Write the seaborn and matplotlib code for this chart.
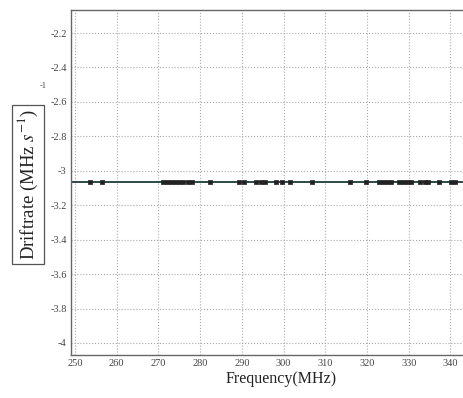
import numpy as np
import pandas as pd
import seaborn as sns
import matplotlib.pyplot as plt

sns.set_style('whitegrid')
plt.rcParams['font.family'] = ['Liberation Serif', 'DejaVu Serif']
plt.rcParams['mathtext.fontset'] = 'stix'

# observed frequencies (MHz) and drift rates (MHz/s)
freqs = [253.5, 256.4, 271.0, 272.0, 273.0, 274.0, 275.0, 276.0, 277.0, 278.0,
         282.4, 289.2, 290.4, 293.5, 294.5, 295.5, 298.3, 299.5, 301.5, 306.7,
         315.8, 319.8, 322.8, 323.8, 324.8, 325.8, 327.6, 328.6, 329.6, 330.6,
         332.8, 333.8, 334.6, 337.2, 340.2, 341.0]
drift = [-3.064] * len(freqs)
fit_value = -3.064

xticks = [250, 260, 270, 280, 290, 300, 310, 320, 330, 340]
yticks = [-2.2, -2.4, -2.6, -2.8, -3.0, -3.2, -3.4, -3.6, -3.8, -4.0]
yticklabels = ['-2.2', '-2.4', '-2.6', '-2.8', '-3', '-3.2', '-3.4', '-3.6', '-3.8', '-4']

df = pd.DataFrame({'freq': freqs, 'drift': drift})

fig = plt.figure(figsize=(4.63, 3.98), dpi=100)
ax = fig.add_axes([0.153, 0.108, 0.91, 0.867])

ax.axhline(fit_value, color='#2c4a4a', linewidth=1.4, zorder=2)
sns.scatterplot(data=df, x='freq', y='drift', marker='s', s=11, color='#222222',
                edgecolor='#222222', linewidth=0.5, ax=ax, zorder=3, legend=False)

ax.set_xlim(249, 350)
ax.set_ylim(-4.07, -2.066)
ax.set_xticks(xticks)
ax.set_yticks(yticks)
ax.set_yticklabels(yticklabels)
ax.tick_params(direction='in', length=3, labelsize=7.5, colors='#555555',
               labelcolor='#444444', pad=3)

ax.grid(True, linestyle=':', color='#aaaaaa', linewidth=0.8)
for side in ['left', 'bottom', 'top']:
    ax.spines[side].set_color('#666666')
    ax.spines[side].set_linewidth(1.0)
ax.spines['right'].set_visible(False)

ax.set_xlabel('Frequency(MHz)', fontsize=11.5, color='#222222', labelpad=2)
ax.set_ylabel('')

fig.text(0.061, 0.537, r'Driftrate (MHz $s^{-1}$)', rotation=90, fontsize=13.5,
         ha='center', va='center', color='#222222',
         bbox=dict(boxstyle='square,pad=0.2', facecolor='white', edgecolor='#555555', linewidth=0.9))
fig.text(0.093, 0.785, '-1', fontsize=6, color='#444444', ha='center', va='center')

plt.savefig('out.png', dpi=100, facecolor='white')
